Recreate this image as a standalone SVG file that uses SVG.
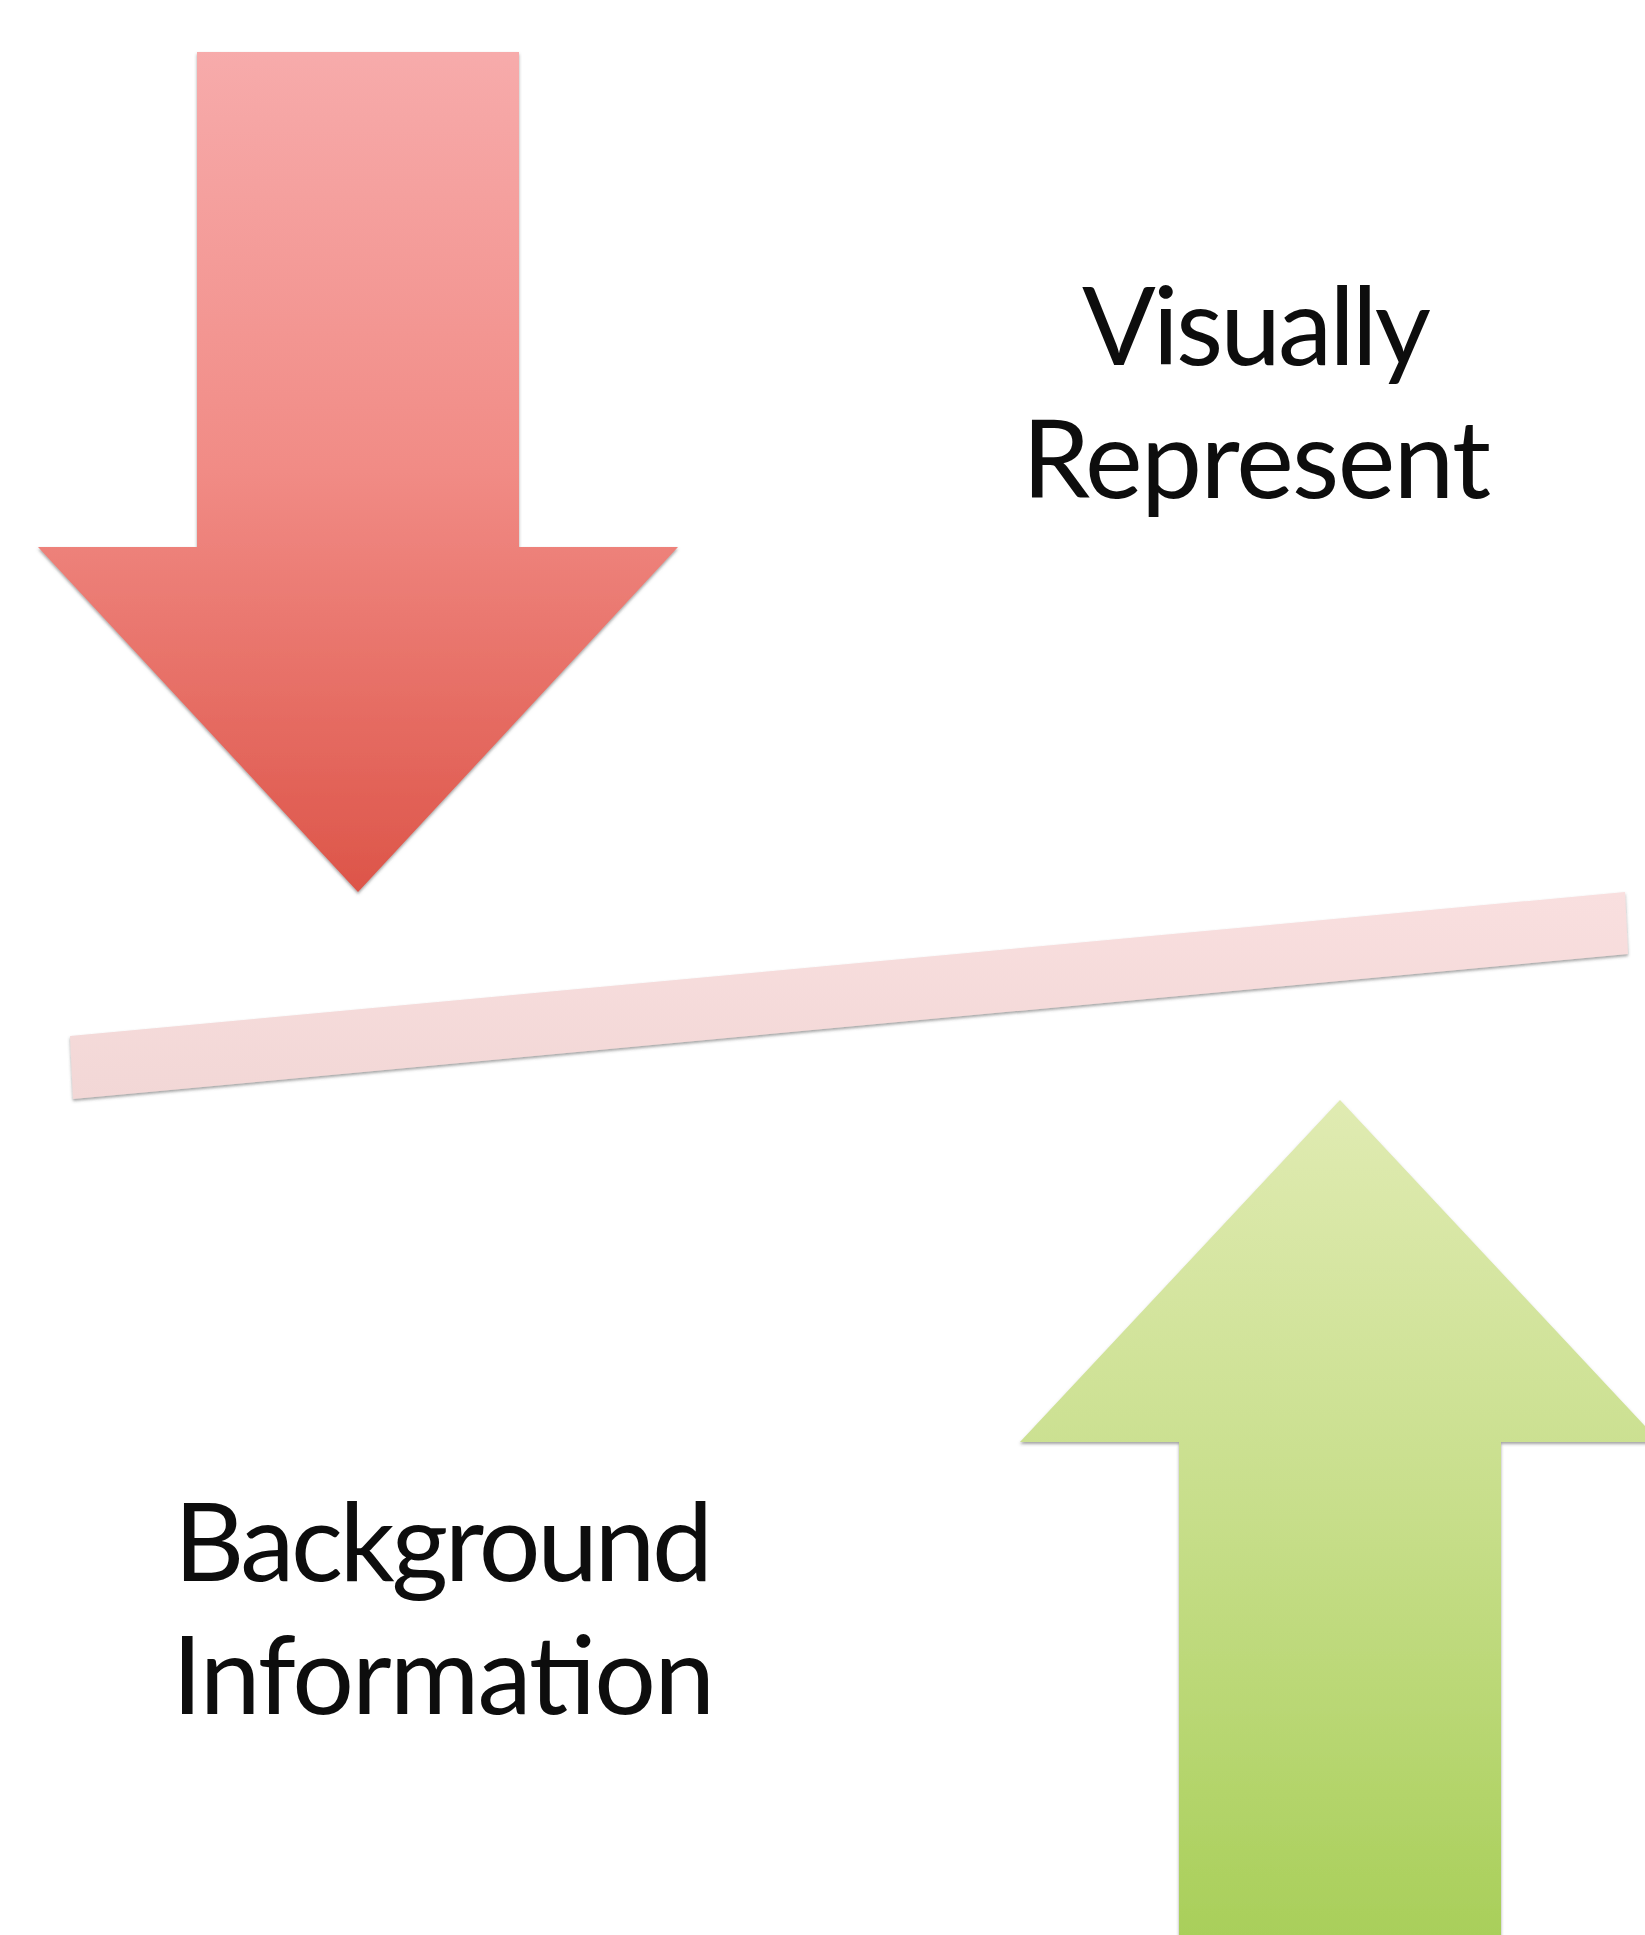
<svg xmlns="http://www.w3.org/2000/svg" width="1645" height="1935" viewBox="0 0 1645 1935">
  <defs>
    <linearGradient id="gRed" x1="0" y1="52" x2="0" y2="892" gradientUnits="userSpaceOnUse">
      <stop offset="0" stop-color="#f7abab"/>
      <stop offset="0.5" stop-color="#f18b85"/>
      <stop offset="1" stop-color="#dd5549"/>
    </linearGradient>
    <linearGradient id="gGreen" x1="0" y1="1100" x2="0" y2="1935" gradientUnits="userSpaceOnUse">
      <stop offset="0" stop-color="#e0ebb2"/>
      <stop offset="0.5" stop-color="#c7de8a"/>
      <stop offset="1" stop-color="#a9cf5a"/>
    </linearGradient>
    <linearGradient id="gBar" x1="0" y1="892" x2="0" y2="1099" gradientUnits="userSpaceOnUse">
      <stop offset="0" stop-color="#f9dfdf"/>
      <stop offset="1" stop-color="#f2d7d6"/>
    </linearGradient>
    <filter id="shadow" x="-5%" y="-5%" width="110%" height="110%">
      <feDropShadow dx="0" dy="2" stdDeviation="1.5" flood-color="#555555" flood-opacity="0.55"/>
    </filter>
  </defs>
  <style>
    .lbl { font-family: Lato, "Open Sans", "Liberation Sans", sans-serif; font-size: 109px; fill: #0d0d0d; }
  </style>
  <rect width="1645" height="1935" fill="#ffffff"/>
  <g id="connectors">
    <g id="bar">
      <polygon points="70,1036 1625,892 1628,954 73,1099" fill="url(#gBar)" filter="url(#shadow)"/>
    </g>
  </g>
  <g id="red-arrow">
    <polygon points="197,52 519,52 519,547 678,547 358,892 38,547 197,547" fill="url(#gRed)" filter="url(#shadow)"/>
  </g>
  <g id="green-arrow">
    <polygon points="1340,1100 1660,1442 1501,1442 1501,1945 1179,1945 1179,1442 1020,1442" fill="url(#gGreen)" filter="url(#shadow)"/>
  </g>
  <g id="label-visually-represent">
    <text class="lbl" x="1082" y="365" textLength="349">Visually</text>
    <text class="lbl" x="1022" y="498" textLength="469">Represent</text>
  </g>
  <g id="label-background-information">
    <text class="lbl" x="174" y="1581" textLength="539">Background</text>
    <text class="lbl" x="172" y="1714" textLength="543">Information</text>
  </g>
</svg>
